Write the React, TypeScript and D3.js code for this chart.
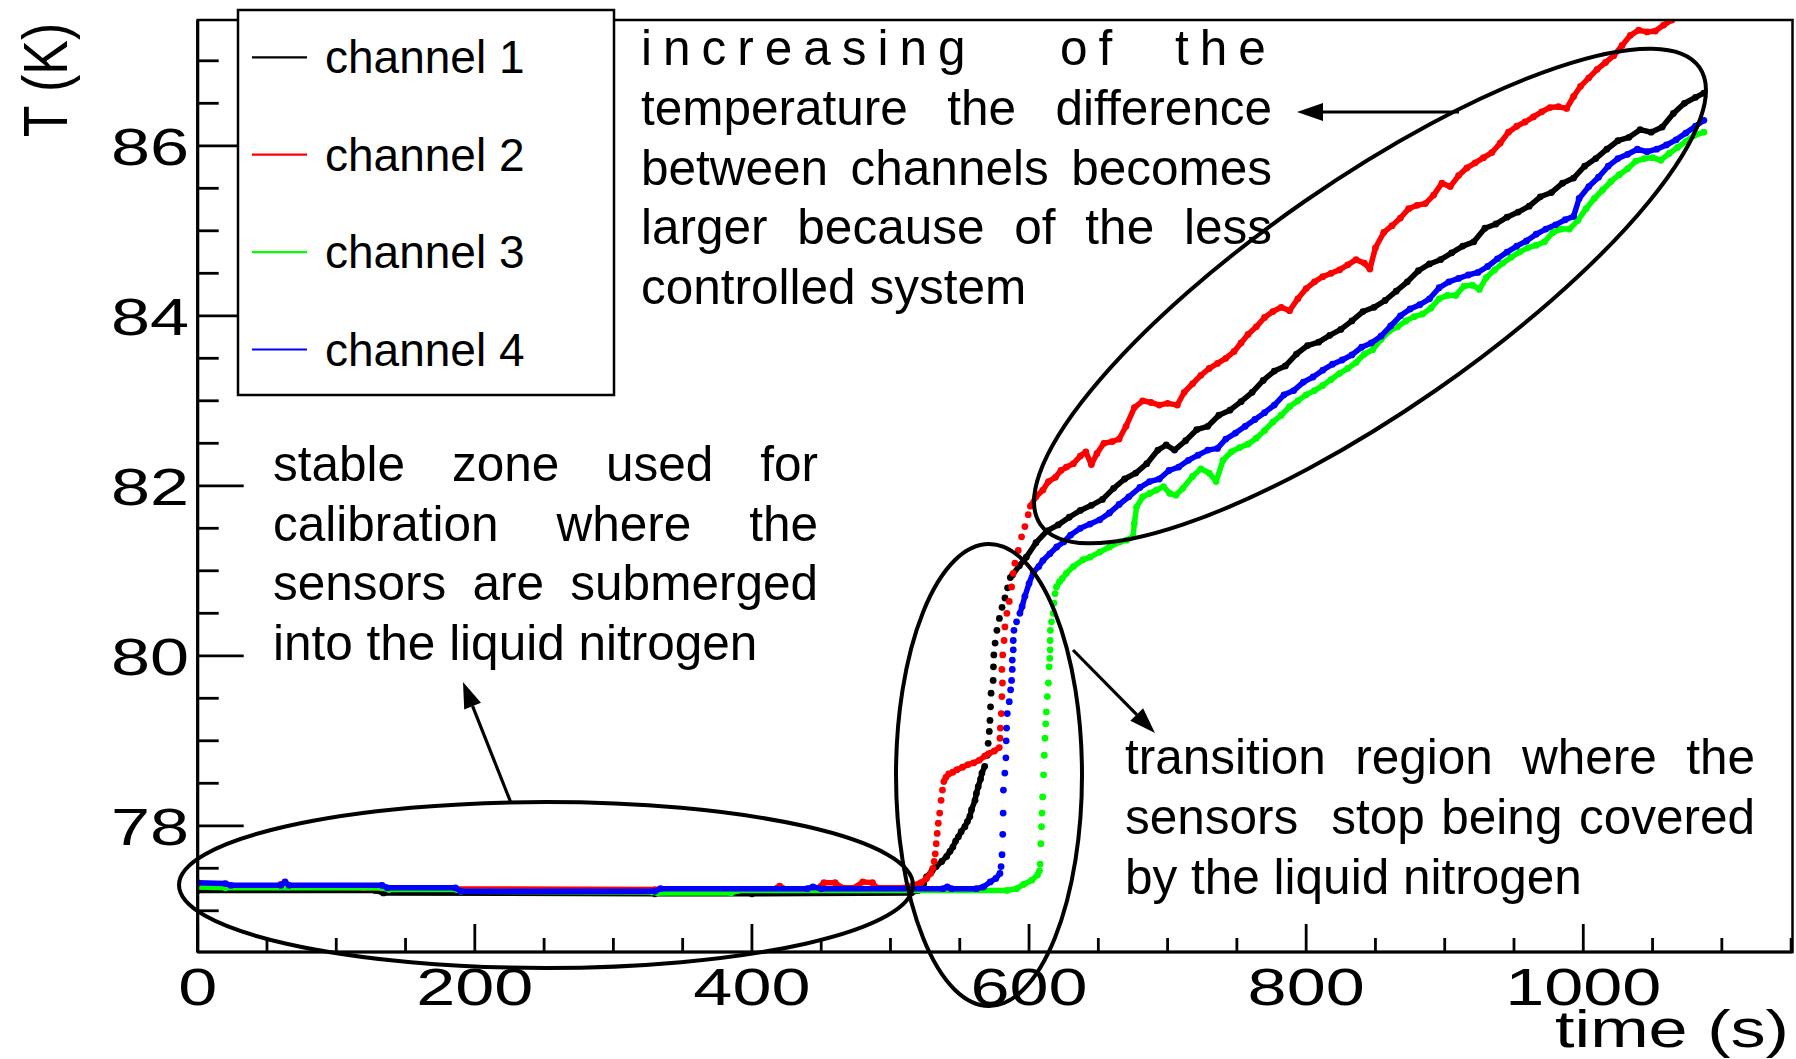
import React from 'react';
import * as d3 from 'd3';

type P = [number, number];

const W = 1796;
const H = 1059;

// ---------- axes ----------
const xDomain: P = [0, 1151];
const yDomain: P = [76.515, 87.48];
const xMajorTicks = [0, 200, 400, 600, 800, 1000];
const xMinorStep = 50;
const yMajorTicks = [78, 80, 82, 84, 86];
const yMinorStep = 0.5;
const xTitle = 'time (s)';
const yTitle = 'T (K)';

// ---------- legend ----------
const legendLabels = ['channel 1', 'channel 2', 'channel 3', 'channel 4'];
const seriesColors = ['#000000', '#ff0000', '#00ff00', '#0000ff'];

// ---------- channel 1 (black) ----------
const ch1Flat: P[] = [[0,77.24],[128,77.24],[134,77.21],[330,77.20],[400,77.20],[515,77.21],[520,77.24],[524,77.32],[526,77.40],[530,77.47],[533,77.52],[537,77.58],[540.5,77.64],[543,77.70],[545,77.75],[547,77.82],[549,77.87],[551,77.93],[553.7,77.99],[555.5,78.05],[557.3,78.11],[558.5,78.19],[561,78.30],[562,78.38],[563.3,78.46],[565,78.55],[566,78.62],[568,78.70]];
const ch1Steps: P[] = [[569.8,78.83],[570.5,78.97],[571.3,79.11],[571.8,79.24],[572.2,79.40],[572.6,79.56],[574.1,79.71],[574.3,79.87],[574.6,80.01],[575.5,80.15],[576.8,80.30],[578.6,80.44],[580.5,80.57],[582.6,80.68],[584.5,80.80],[586.5,80.92]];
const ch1Rise: P[] = [[588,80.95],[593,81.06],[598,81.16],[605,81.33],[613,81.47],[621,81.54],[629,81.63],[637,81.71],[645,81.77],[653,81.84],[661,81.97],[669,82.08],[677,82.15],[685,82.26],[693,82.42],[699,82.48],[705,82.42],[713,82.53],[721,82.66],[729,82.70],[737,82.83],[745,82.89],[753,82.99],[761,83.10],[769,83.24],[777,83.35],[785,83.41],[793,83.55],[801,83.65],[809,83.69],[817,83.77],[825,83.84],[833,83.94],[841,84.05],[849,84.10],[857,84.18],[865,84.29],[873,84.40],[881,84.53],[889,84.61],[897,84.66],[905,84.74],[913,84.82],[921,84.87],[929,85.03],[937,85.08],[945,85.16],[953,85.22],[961,85.29],[969,85.40],[977,85.45],[985,85.56],[993,85.62],[1001,85.76],[1009,85.85],[1017,85.96],[1025,86.06],[1033,86.10],[1041,86.19],[1049,86.16],[1057,86.22],[1065,86.38],[1073,86.50],[1081,86.57],[1087,86.62]];

// ---------- channel 2 (red) ----------
const ch2Flat: P[] = [[0,77.28],[55,77.28],[60,77.31],[65,77.28],[120,77.27],[138,77.26],[330,77.25],[415,77.25],[420,77.29],[425,77.25],[447,77.26],[452,77.33],[460,77.33],[465,77.27],[474,77.27],[480,77.34],[487,77.33],[490,77.27],[510,77.27],[516,77.30],[522,77.33],[526,77.38],[529,77.44]];
const ch2Steps1: P[] = [[530.5,77.50],[531.5,77.58],[532.3,77.67],[533,77.79],[533.7,77.91],[534.5,78.03],[535.5,78.15],[536.5,78.30],[537.5,78.42]];
const ch2Shelf: P[] = [[538.5,78.52],[540,78.57],[542,78.61],[545,78.63],[548,78.66],[552,78.69],[556,78.72],[560,78.74],[564,78.77],[568,78.82],[571,78.85],[575,78.88],[578.5,78.92]];
const ch2Steps2: P[] = [[579,79.03],[579.3,79.15],[580,79.32],[580.4,79.52],[580.8,79.68],[580.4,79.84],[581,80.01],[582,80.18],[582.6,80.34],[584,80.50],[585.7,80.64],[587.4,80.81],[588.6,80.97],[589.8,81.09],[592.2,81.24],[594.6,81.40],[597,81.52],[599.4,81.66]];
const ch2Rise: P[] = [[601,81.76],[605,81.87],[610,81.95],[614,82.05],[619,82.10],[623,82.18],[627,82.22],[632,82.26],[637,82.35],[641,82.40],[645,82.25],[649,82.38],[654,82.50],[660,82.52],[665,82.55],[670,82.70],[676,82.92],[682,83.00],[688,82.98],[694,82.95],[700,82.97],[707,82.95],[712,83.10],[718,83.20],[724,83.30],[730,83.38],[736,83.44],[742,83.50],[748,83.58],[753,83.68],[758,83.78],[764,83.87],[770,83.98],[776,84.05],[782,84.10],[788,84.06],[794,84.20],[800,84.32],[806,84.40],[812,84.46],[818,84.50],[824,84.54],[830,84.60],[836,84.66],[842,84.62],[846,84.55],[850,84.80],[856,84.98],[862,85.06],[868,85.15],[874,85.26],[880,85.30],[886,85.32],[892,85.42],[898,85.56],[904,85.52],[910,85.65],[916,85.74],[922,85.80],[928,85.86],[934,85.92],[940,86.03],[946,86.16],[952,86.23],[958,86.28],[964,86.34],[970,86.40],[976,86.45],[982,86.46],[988,86.44],[993,86.58],[998,86.70],[1004,86.80],[1010,86.90],[1016,86.98],[1022,87.06],[1028,87.18],[1034,87.30],[1040,87.36],[1046,87.34],[1052,87.35],[1058,87.42],[1064,87.48],[1070,87.56]];

// ---------- channel 3 (green) ----------
const ch3Flat: P[] = [[0,77.28],[20,77.27],[133,77.27],[138,77.25],[187,77.25],[190,77.23],[328,77.22],[332,77.21],[385,77.21],[390,77.24],[584,77.24],[591,77.26],[596,77.31],[602,77.36],[606,77.42],[607.5,77.47]];
const ch3Steps: P[] = [[608,77.55],[608.5,77.79],[609,77.99],[609.3,78.15],[609.8,78.34],[610.5,78.60],[611,78.83],[611.5,79.03],[612,79.20],[612.5,79.34],[613.2,79.52],[614,79.68],[614.5,79.87],[615,79.97],[615.2,80.07],[615.2,80.18],[615.4,80.30],[616.2,80.40],[617.4,80.50],[618,80.62],[618.8,80.73]];
const ch3Rise: P[] = [[619.8,80.81],[622,80.87],[624,80.91],[627,80.97],[632,81.05],[639,81.13],[644,81.16],[651,81.22],[658,81.28],[665.6,81.34],[670.4,81.36],[675,81.40],[676,81.56],[677.6,81.75],[682,81.87],[687,81.91],[692,81.95],[697,81.99],[701.6,81.91],[706,81.89],[711,81.97],[718,82.11],[724,82.20],[730,82.15],[735,82.05],[740,82.30],[746,82.40],[752,82.45],[758,82.49],[764,82.56],[770,82.65],[776,82.75],[782,82.83],[788,82.93],[794,83.00],[800,83.07],[806,83.12],[812,83.18],[818,83.25],[824,83.32],[830,83.38],[836,83.45],[842,83.55],[848,83.60],[854,83.72],[860,83.82],[866,83.87],[872,83.94],[878,83.99],[884,84.02],[890,84.09],[896,84.20],[902,84.24],[908,84.24],[914,84.35],[920,84.36],[925,84.31],[930,84.45],[936,84.54],[942,84.62],[948,84.69],[954,84.75],[960,84.80],[966,84.83],[972,84.87],[978,84.98],[984,85.02],[990,85.02],[996,85.12],[1002,85.26],[1008,85.38],[1014,85.48],[1020,85.58],[1026,85.66],[1032,85.73],[1038,85.82],[1044,85.85],[1050,85.86],[1056,85.83],[1062,85.91],[1068,85.98],[1074,86.05],[1080,86.12],[1087,86.16]];

// ---------- channel 4 (blue) ----------
const ch4Flat: P[] = [[0,77.33],[20,77.32],[24,77.30],[60,77.30],[63,77.34],[66,77.30],[133,77.30],[137,77.27],[186,77.27],[190,77.23],[330,77.23],[334,77.26],[440,77.26],[444,77.28],[450,77.26],[538,77.26],[541,77.28],[544,77.26],[562,77.26],[567,77.28],[572,77.34],[576,77.38],[579,77.44]];
const ch4Steps: P[] = [[579.8,77.52],[580.5,77.66],[581,77.90],[581.3,78.15],[581.5,78.42],[582.5,78.62],[583.3,78.80],[583.5,79.00],[583.8,79.15],[584.3,79.32],[585.7,79.46],[586.7,79.60],[587.4,79.71],[587.9,79.84],[587.9,79.95],[588.6,80.07],[588.6,80.18],[589.1,80.30],[591,80.40]];
const ch4Rise: P[] = [[593.4,80.50],[595,80.58],[597,80.70],[600,80.85],[603,80.98],[607,81.05],[610,81.12],[615,81.20],[620,81.28],[625,81.34],[630,81.42],[637,81.50],[644,81.55],[651,81.60],[658,81.68],[665,81.78],[672,81.87],[680,81.98],[687,82.05],[694,82.08],[701,82.18],[708,82.22],[715,82.30],[722,82.36],[729,82.42],[736,82.44],[742,82.55],[749,82.62],[756,82.70],[763,82.78],[770,82.86],[777,82.95],[784,83.07],[791,83.12],[798,83.22],[805,83.28],[812,83.36],[819,83.43],[826,83.48],[833,83.54],[840,83.63],[847,83.68],[854,83.76],[861,83.88],[868,84.00],[875,84.08],[882,84.13],[889,84.20],[896,84.33],[903,84.40],[910,84.44],[917,84.48],[924,84.51],[931,84.58],[938,84.67],[945,84.75],[952,84.82],[959,84.88],[966,84.96],[973,85.02],[980,85.07],[987,85.13],[993,85.17],[997,85.38],[1004,85.52],[1011,85.63],[1018,85.76],[1025,85.85],[1032,85.90],[1039,85.96],[1046,85.93],[1053,85.96],[1060,86.01],[1067,86.07],[1074,86.15],[1081,86.23],[1087,86.30]];

// ---------- annotations ----------
const note1Lines = ['temperature the difference', 'between channels becomes', 'larger because of the less', 'controlled system'];
const note1First = ['increasing', 'of', 'the'];
const note2Lines = ['stable zone used for', 'calibration where the', 'sensors are submerged', 'into the liquid nitrogen'];
const note3Lines = ['transition region where the', 'sensors  stop being covered', 'by the liquid nitrogen'];

const FONT = '"Liberation Sans", Arial, Helvetica, sans-serif';
const NOTE_SIZE = 49.5;

let measureCtx: CanvasRenderingContext2D | null = null;
function measure(t: string, size: number): number {
  if (!measureCtx) {
    const c = document.createElement('canvas');
    measureCtx = c.getContext('2d');
  }
  if (!measureCtx) return t.length * size * 0.5;
  measureCtx.font = `${size}px "Liberation Sans"`;
  return measureCtx.measureText(t).width;
}

function JustifiedLine({ text, left, right, y, justify }: { text: string; left: number; right: number; y: number; justify: boolean }) {
  if (!justify) {
    return <text x={left} y={y} fontSize={NOTE_SIZE} fontFamily={FONT}>{text}</text>;
  }
  const words = text.split(' ');
  const widths = words.map((w) => (w ? measure(w, NOTE_SIZE) : 0));
  const total = d3.sum(widths);
  const gap = (right - left - total) / (words.length - 1);
  let cx = left;
  const items: { w: string; x: number }[] = [];
  words.forEach((w, i) => {
    items.push({ w, x: cx });
    cx += widths[i] + gap;
  });
  return (
    <g>
      {items.filter((d) => d.w).map((d, i) => (
        <text key={i} x={d.x} y={y} fontSize={NOTE_SIZE} fontFamily={FONT}>{d.w}</text>
      ))}
    </g>
  );
}

function Arrow({ x1, y1, x2, y2 }: { x1: number; y1: number; x2: number; y2: number }) {
  const ang = Math.atan2(y2 - y1, x2 - x1);
  const L = 26, hw = 9;
  const bx = x2 - L * Math.cos(ang), by = y2 - L * Math.sin(ang);
  const px = -Math.sin(ang) * hw, py = Math.cos(ang) * hw;
  return (
    <g>
      <line x1={x1} y1={y1} x2={bx} y2={by} stroke="#000" strokeWidth={3.2} />
      <polygon points={`${x2},${y2} ${bx + px},${by + py} ${bx - px},${by - py}`} fill="#000" />
    </g>
  );
}

export default function App() {
  const left = 197.7, right = 1792.5, top = 20, bottom = 952;
  const x = d3.scaleLinear().domain(xDomain).range([left, right]);
  const y = d3.scaleLinear().domain(yDomain).range([bottom, top]);
  const line = d3.line<P>().x((d) => x(d[0])).y((d) => y(d[1]));

  const series = [
    { color: seriesColors[0], lines: [ch1Flat, ch1Rise], dots: [ch1Steps] },
    { color: seriesColors[1], lines: [ch2Flat, ch2Shelf, ch2Rise], dots: [ch2Steps1, ch2Steps2] },
    { color: seriesColors[2], lines: [ch3Flat, ch3Rise], dots: [ch3Steps] },
    { color: seriesColors[3], lines: [ch4Flat, ch4Rise], dots: [ch4Steps] },
  ];

  const xMinor = d3.range(xDomain[0], xDomain[1], xMinorStep).filter((v) => !xMajorTicks.includes(v));
  const yMinor = d3.range(77, 87.5, yMinorStep).filter((v) => !yMajorTicks.includes(v));

  const lh = 59.6;

  return (
    <svg width={W} height={H} style={{ position: 'absolute', left: 0, top: 0, background: '#fff' }} fontFamily={FONT}>
      <rect x={0} y={0} width={W} height={H} fill="#fff" />
      <defs>
        <clipPath id="plotClip">
          <rect x={left} y={top} width={right - left} height={bottom - top} />
        </clipPath>
      </defs>

      {/* data */}
      <g clipPath="url(#plotClip)">
        {series.map((s, i) => (
          <g key={i}>
            {s.lines.map((seg, j) => (
              <g key={j}>
                <path d={line(seg) || ''} fill="none" stroke={s.color} strokeWidth={5.5} strokeLinejoin="round" strokeLinecap="round" />
                {seg.map((d, k) => (
                  <circle key={k} cx={x(d[0])} cy={y(d[1])} r={3.4} fill={s.color} />
                ))}
              </g>
            ))}
            {s.dots.map((seg, j) =>
              seg.map((d, k) => <circle key={`${j}-${k}`} cx={x(d[0])} cy={y(d[1])} r={3.4} fill={s.color} />)
            )}
          </g>
        ))}
      </g>

      {/* frame */}
      <rect x={left} y={top} width={right - left} height={bottom - top} fill="none" stroke="#000" strokeWidth={2.5} />
      <line x1={left} y1={top} x2={left} y2={bottom} stroke="#000" strokeWidth={3.2} />
      <line x1={left} y1={bottom} x2={right} y2={bottom} stroke="#000" strokeWidth={3.2} />

      {/* x ticks */}
      {xMajorTicks.map((v) => (
        <line key={`xm${v}`} x1={x(v)} x2={x(v)} y1={bottom} y2={bottom - 28} stroke="#000" strokeWidth={2.8} />
      ))}
      {xMinor.map((v) => (
        <line key={`xn${v}`} x1={x(v)} x2={x(v)} y1={bottom} y2={bottom - 14} stroke="#000" strokeWidth={2.8} />
      ))}
      {xMajorTicks.map((v) => (
        <g key={`xl${v}`} transform={`translate(${x(v)},1005) scale(1.35,1)`}>
          <text textAnchor="middle" fontSize={52}>{v}</text>
        </g>
      ))}

      {/* y ticks */}
      {yMajorTicks.map((v) => (
        <line key={`ym${v}`} x1={left} x2={left + 46} y1={y(v)} y2={y(v)} stroke="#000" strokeWidth={2.8} />
      ))}
      {yMinor.map((v) => (
        <line key={`yn${v}`} x1={left} x2={left + 21} y1={y(v)} y2={y(v)} stroke="#000" strokeWidth={2.8} />
      ))}
      {yMajorTicks.map((v) => (
        <g key={`yl${v}`} transform={`translate(189,${y(v) + 19.5}) scale(1.35,1)`}>
          <text textAnchor="end" fontSize={52}>{v}</text>
        </g>
      ))}

      {/* axis titles */}
      <g transform="translate(1789,1047) scale(1.35,1)">
        <text textAnchor="end" fontSize={52}>{xTitle}</text>
      </g>
      <g transform="translate(67,80) scale(1.21,1) rotate(-90)">
        <text textAnchor="middle" fontSize={52}>{yTitle}</text>
      </g>

      {/* legend */}
      <rect x={238} y={10} width={376} height={385} fill="#fff" stroke="#000" strokeWidth={2.5} />
      {legendLabels.map((lab, i) => {
        const by = 73.3 + i * 97.4;
        return (
          <g key={lab}>
            <line x1={252} x2={307} y1={by - 16} y2={by - 16} stroke={seriesColors[i]} strokeWidth={2.2} />
            <text x={325} y={by} fontSize={46}>{lab}</text>
          </g>
        );
      })}

      {/* ellipses */}
      <ellipse cx={546} cy={885} rx={367} ry={83} fill="none" stroke="#000" strokeWidth={4} />
      <ellipse cx={989} cy={775} rx={93} ry={231} fill="none" stroke="#000" strokeWidth={4} />
      <ellipse cx={1370} cy={296} rx={401} ry={115} fill="none" stroke="#000" strokeWidth={4} transform="rotate(-34.75 1370 296)" />

      {/* arrows */}
      <Arrow x1={511} y1={803} x2={463} y2={682} />
      <Arrow x1={1459} y1={112} x2={1297} y2={112} />
      <Arrow x1={1073} y1={650} x2={1155} y2={733} />

      {/* annotation 1 */}
      <g fontSize={NOTE_SIZE}>
        <text x={641} y={65.3} letterSpacing={11} fontSize={NOTE_SIZE}>{note1First[0]}</text>
        <text x={1060} y={65.3} letterSpacing={11} fontSize={NOTE_SIZE}>{note1First[1]}</text>
        <text x={1175} y={65.3} letterSpacing={11} fontSize={NOTE_SIZE}>{note1First[2]}</text>
      </g>
      {note1Lines.map((t, i) => (
        <JustifiedLine key={`n1${i}`} text={t} left={641} right={1272} y={65.3 + (i + 1) * lh} justify={i < note1Lines.length - 1} />
      ))}
      {note2Lines.map((t, i) => (
        <JustifiedLine key={`n2${i}`} text={t} left={273} right={818} y={481 + i * lh} justify={i < note2Lines.length - 1} />
      ))}
      {note3Lines.map((t, i) => (
        <JustifiedLine key={`n3${i}`} text={t} left={1125} right={1755} y={774.3 + i * lh} justify={i < note3Lines.length - 1} />
      ))}
    </svg>
  );
}
